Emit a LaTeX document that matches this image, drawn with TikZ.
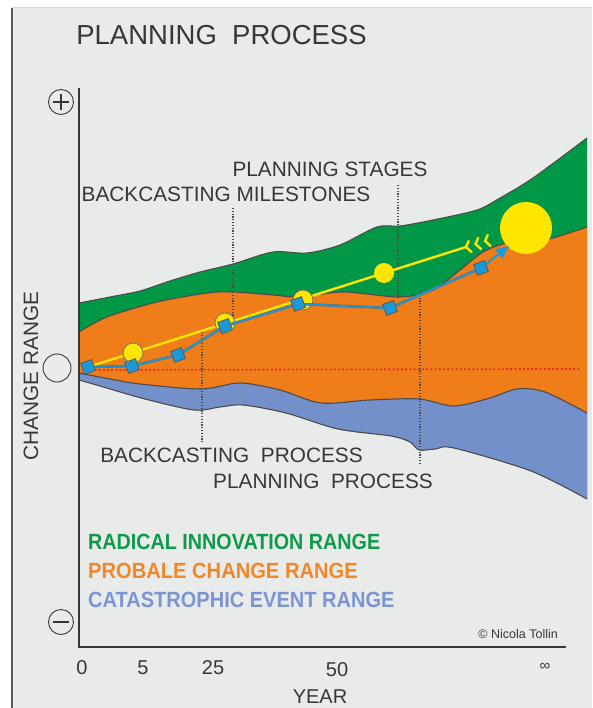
\documentclass[tikz,border=0pt]{standalone}
\usepackage{fontspec}
\setmainfont{Liberation Sans}
\usepackage{graphicx}
\usetikzlibrary{arrows.meta}
\definecolor{bgc}{RGB}{233,235,234}
\definecolor{txt}{RGB}{55,55,55}
\definecolor{grn}{RGB}{0,152,70}
\definecolor{org}{RGB}{238,125,26}
\definecolor{blu}{RGB}{115,144,202}
\definecolor{yel}{RGB}{255,230,0}
\definecolor{cya}{RGB}{27,154,215}
\definecolor{redd}{RGB}{228,52,40}
\definecolor{lgrn}{RGB}{14,154,72}
\definecolor{lorg}{RGB}{240,136,42}
\definecolor{lblu}{RGB}{124,149,210}
\tikzset{
  lbl/.style={inner sep=0pt, text=txt, font=\fontsize{20.8}{24}\selectfont},
  tick/.style={inner sep=0pt, text=txt, font=\fontsize{20}{24}\selectfont},
  legend/.style={inner sep=0pt, anchor=west, font=\bfseries\fontsize{22}{26}\selectfont},
  bnd/.style={draw=black!70, line width=1.1pt},
  vdots/.style={draw=black!70, line width=1.2pt, dash pattern=on 1.2pt off 1.6pt},
  sq/.style={rectangle, minimum size=11.5pt, inner sep=0pt, rotate=20, fill=cya, draw=black!65, line width=0.8pt},
  ycirc/.style={circle, minimum size=20pt, inner sep=0pt, fill=yel, draw=black!55, line width=0.8pt},
  sign/.style={circle, minimum size=25pt, inner sep=0pt, draw=txt, line width=0.9pt},
}
\begin{document}
\begin{tikzpicture}[x=1pt,y=-1pt]
\useasboundingbox (0,0) rectangle (592,708);
% background panel
\fill[white] (0,0) rectangle (592,708);
\fill[bgc] (12,8) rectangle (592,708);
\draw[black!15, line width=1pt] (12,8) -- (592,8);
\draw[black!65, line width=2pt] (12,8) -- (12,708);

% ranges
\fill[grn] plot[smooth] coordinates {(79,303) (110,297) (140,291) (170,281) (200,272) (233,264) (273,252) (307,253) (340,245) (377,227) (400,226) (433,220) (477,210) (500,198) (533,178) (587,138)}
  -- plot[smooth] coordinates {(587,499) (531,471) (454,448) (435,449) (419,450) (410,442) (391,436) (338,429) (286,413) (243,405) (220,407) (194,410) (145,399) (100,386) (79,380)} -- cycle;
\fill[org] plot[smooth] coordinates {(79,332) (107,317) (157,302) (207,293) (233,292) (273,295) (300,297) (343,292) (400,297) (433,290) (460,270) (483,252) (507,243) (533,242) (553,238) (587,227)}
  -- plot[smooth] coordinates {(587,499) (531,471) (454,448) (435,449) (419,450) (410,442) (391,436) (338,429) (286,413) (243,405) (220,407) (194,410) (145,399) (100,386) (79,380)} -- cycle;
\fill[blu] plot[smooth] coordinates {(79,373) (110,379) (140,384) (201,389) (240,383) (280,390) (321,403) (370,400) (419,399) (454,406) (490,398) (517,389) (545,392) (587,413)}
  -- plot[smooth] coordinates {(587,499) (531,471) (454,448) (435,449) (419,450) (410,442) (391,436) (338,429) (286,413) (243,405) (220,407) (194,410) (145,399) (100,386) (79,380)} -- cycle;
\draw[bnd] plot[smooth] coordinates {(79,303) (110,297) (140,291) (170,281) (200,272) (233,264) (273,252) (307,253) (340,245) (377,227) (400,226) (433,220) (477,210) (500,198) (533,178) (587,138)};
\draw[bnd] plot[smooth] coordinates {(79,332) (107,317) (157,302) (207,293) (233,292) (273,295) (300,297) (343,292) (400,297) (433,290) (460,270) (483,252) (507,243) (533,242) (553,238) (587,227)};
\draw[bnd] plot[smooth] coordinates {(79,373) (110,379) (140,384) (201,389) (240,383) (280,390) (321,403) (370,400) (419,399) (454,406) (490,398) (517,389) (545,392) (587,413)};
\draw[bnd] plot[smooth] coordinates {(79,380) (100,386) (145,399) (194,410) (220,407) (243,405) (286,413) (338,429) (391,436) (410,442) (419,450) (435,449) (454,448) (531,471) (587,499)};

% zero line
\coordinate (z0) at (86,370);
\coordinate (z1) at (580,369);
\draw[redd, line width=1.8pt, dash pattern=on 2pt off 2.2pt] (z0) -- (z1);

% vertical dotted guides
\coordinate (bm0) at (233,208); \coordinate (bm1) at (233,318);
\coordinate (bp0) at (202,332); \coordinate (bp1) at (202,443);
\coordinate (ps0) at (398,185); \coordinate (ps1) at (398,298);
\coordinate (pp0) at (420,292); \coordinate (pp1) at (420,463);
\draw[vdots] (bm0) -- (bm1);
\draw[vdots] (bp0) -- (bp1);
\draw[vdots] (ps0) -- (ps1);
\draw[vdots] (pp0) -- (pp1);

% point positions
\coordinate (s1) at (88,367);
\coordinate (s2) at (132,366);
\coordinate (s3) at (178,355);
\coordinate (s4) at (225,326);
\coordinate (s5) at (298,304);
\coordinate (s6) at (390,308);
\coordinate (s7) at (481,268);
\coordinate (tip) at (509,246);
\coordinate (c1) at (133,353);
\coordinate (c2) at (225,323);
\coordinate (c3) at (303,300);
\coordinate (c4) at (384,273);
\coordinate (yend) at (466,247);

% yellow line with feathers
\draw[yel, line width=2.4pt] (s1) -- (yend);
\foreach \t in {0,10,20}{
  \draw[yel, line width=2.4pt, line cap=round] ([shift={(\t*0.954+5.5,-\t*0.300+5)}]yend) -- ([shift={(\t*0.954,-\t*0.300)}]yend) -- ([shift={(\t*0.954+2.6,-\t*0.300-6)}]yend);
}
\node[ycirc] (yc1) at (c1) {};
\node[ycirc] (yc2) at (c2) {};
\node[ycirc] (yc3) at (c3) {};
\node[ycirc, draw=none] (yc4) at (c4) {};
\node[circle, fill=yel, minimum size=52pt, inner sep=0pt] (big) at (526,228) {};

% blue line
\draw[black!60, line width=2.6pt] (s1) -- (s2) -- (s3) -- (s4) -- (s5) -- (s6) -- (s7);
\draw[cya, line width=1.8pt] (s1) -- (s2) -- (s3) -- (s4) -- (s5) -- (s6) -- (s7);
\draw[cya, line width=2pt, -{Triangle[length=13pt,width=11pt]}] (s7) -- (tip);
\foreach \i in {1,...,7}{ \node[sq] (q\i) at (s\i) {}; }

% axes
\draw[txt, line width=2pt] (79,88) -- (79,648);
\draw[txt, line width=2pt] (78,647) -- (566,647);
\node[sign] (plus) at (61,102) {};
\draw[txt, line width=1.2pt] ([xshift=-8pt]plus.center) -- ([xshift=8pt]plus.center) ([yshift=-8pt]plus.center) -- ([yshift=8pt]plus.center);
\node[sign] (minus) at (61,622) {};
\draw[txt, line width=1.2pt] ([xshift=-8pt]minus.center) -- ([xshift=8pt]minus.center);
\node[sign, minimum size=28pt] (zero) at (57,368) {};

% texts
\node[inner sep=0pt, text=txt, font=\fontsize{27.5}{32}\selectfont] (title) at (221.5,35) {PLANNING\ \ PROCESS};
\node[lbl] (pst) at (330,169) {PLANNING STAGES};
\node[lbl] (bms) at (226,194) {BACKCASTING MILESTONES};
\node[lbl] (bpr) at (231.5,455) {BACKCASTING\ \ PROCESS};
\node[lbl] (ppr) at (323,481) {PLANNING\ \ PROCESS};
\node[lbl, rotate=90] (cr) at (31,376) {CHANGE RANGE};
\node[legend, text=lgrn] (l1) at (88,542) {\scalebox{0.897}[1]{RADICAL INNOVATION RANGE}};
\node[legend, text=lorg] (l2) at (88,571) {\scalebox{0.915}[1]{PROBALE CHANGE RANGE}};
\node[legend, text=lblu] (l3) at (88,600) {\scalebox{0.91}[1]{CATASTROPHIC EVENT RANGE}};
\node[inner sep=0pt, anchor=east, text=txt, font=\fontsize{12.5}{15}\selectfont] (copy) at (558,634) {© Nicola Tollin};
\node[tick] (t0) at (82,668) {0};
\node[tick] (t5) at (143,668) {5};
\node[tick] (t25) at (213,668) {25};
\node[tick] (t50) at (337,670) {50};
\node[inner sep=0pt, text=txt, font=\fontsize{15}{18}\selectfont] (tinf) at (545,667) {∞};
\node[tick] (year) at (320,697) {YEAR};
\end{tikzpicture}
\end{document}
